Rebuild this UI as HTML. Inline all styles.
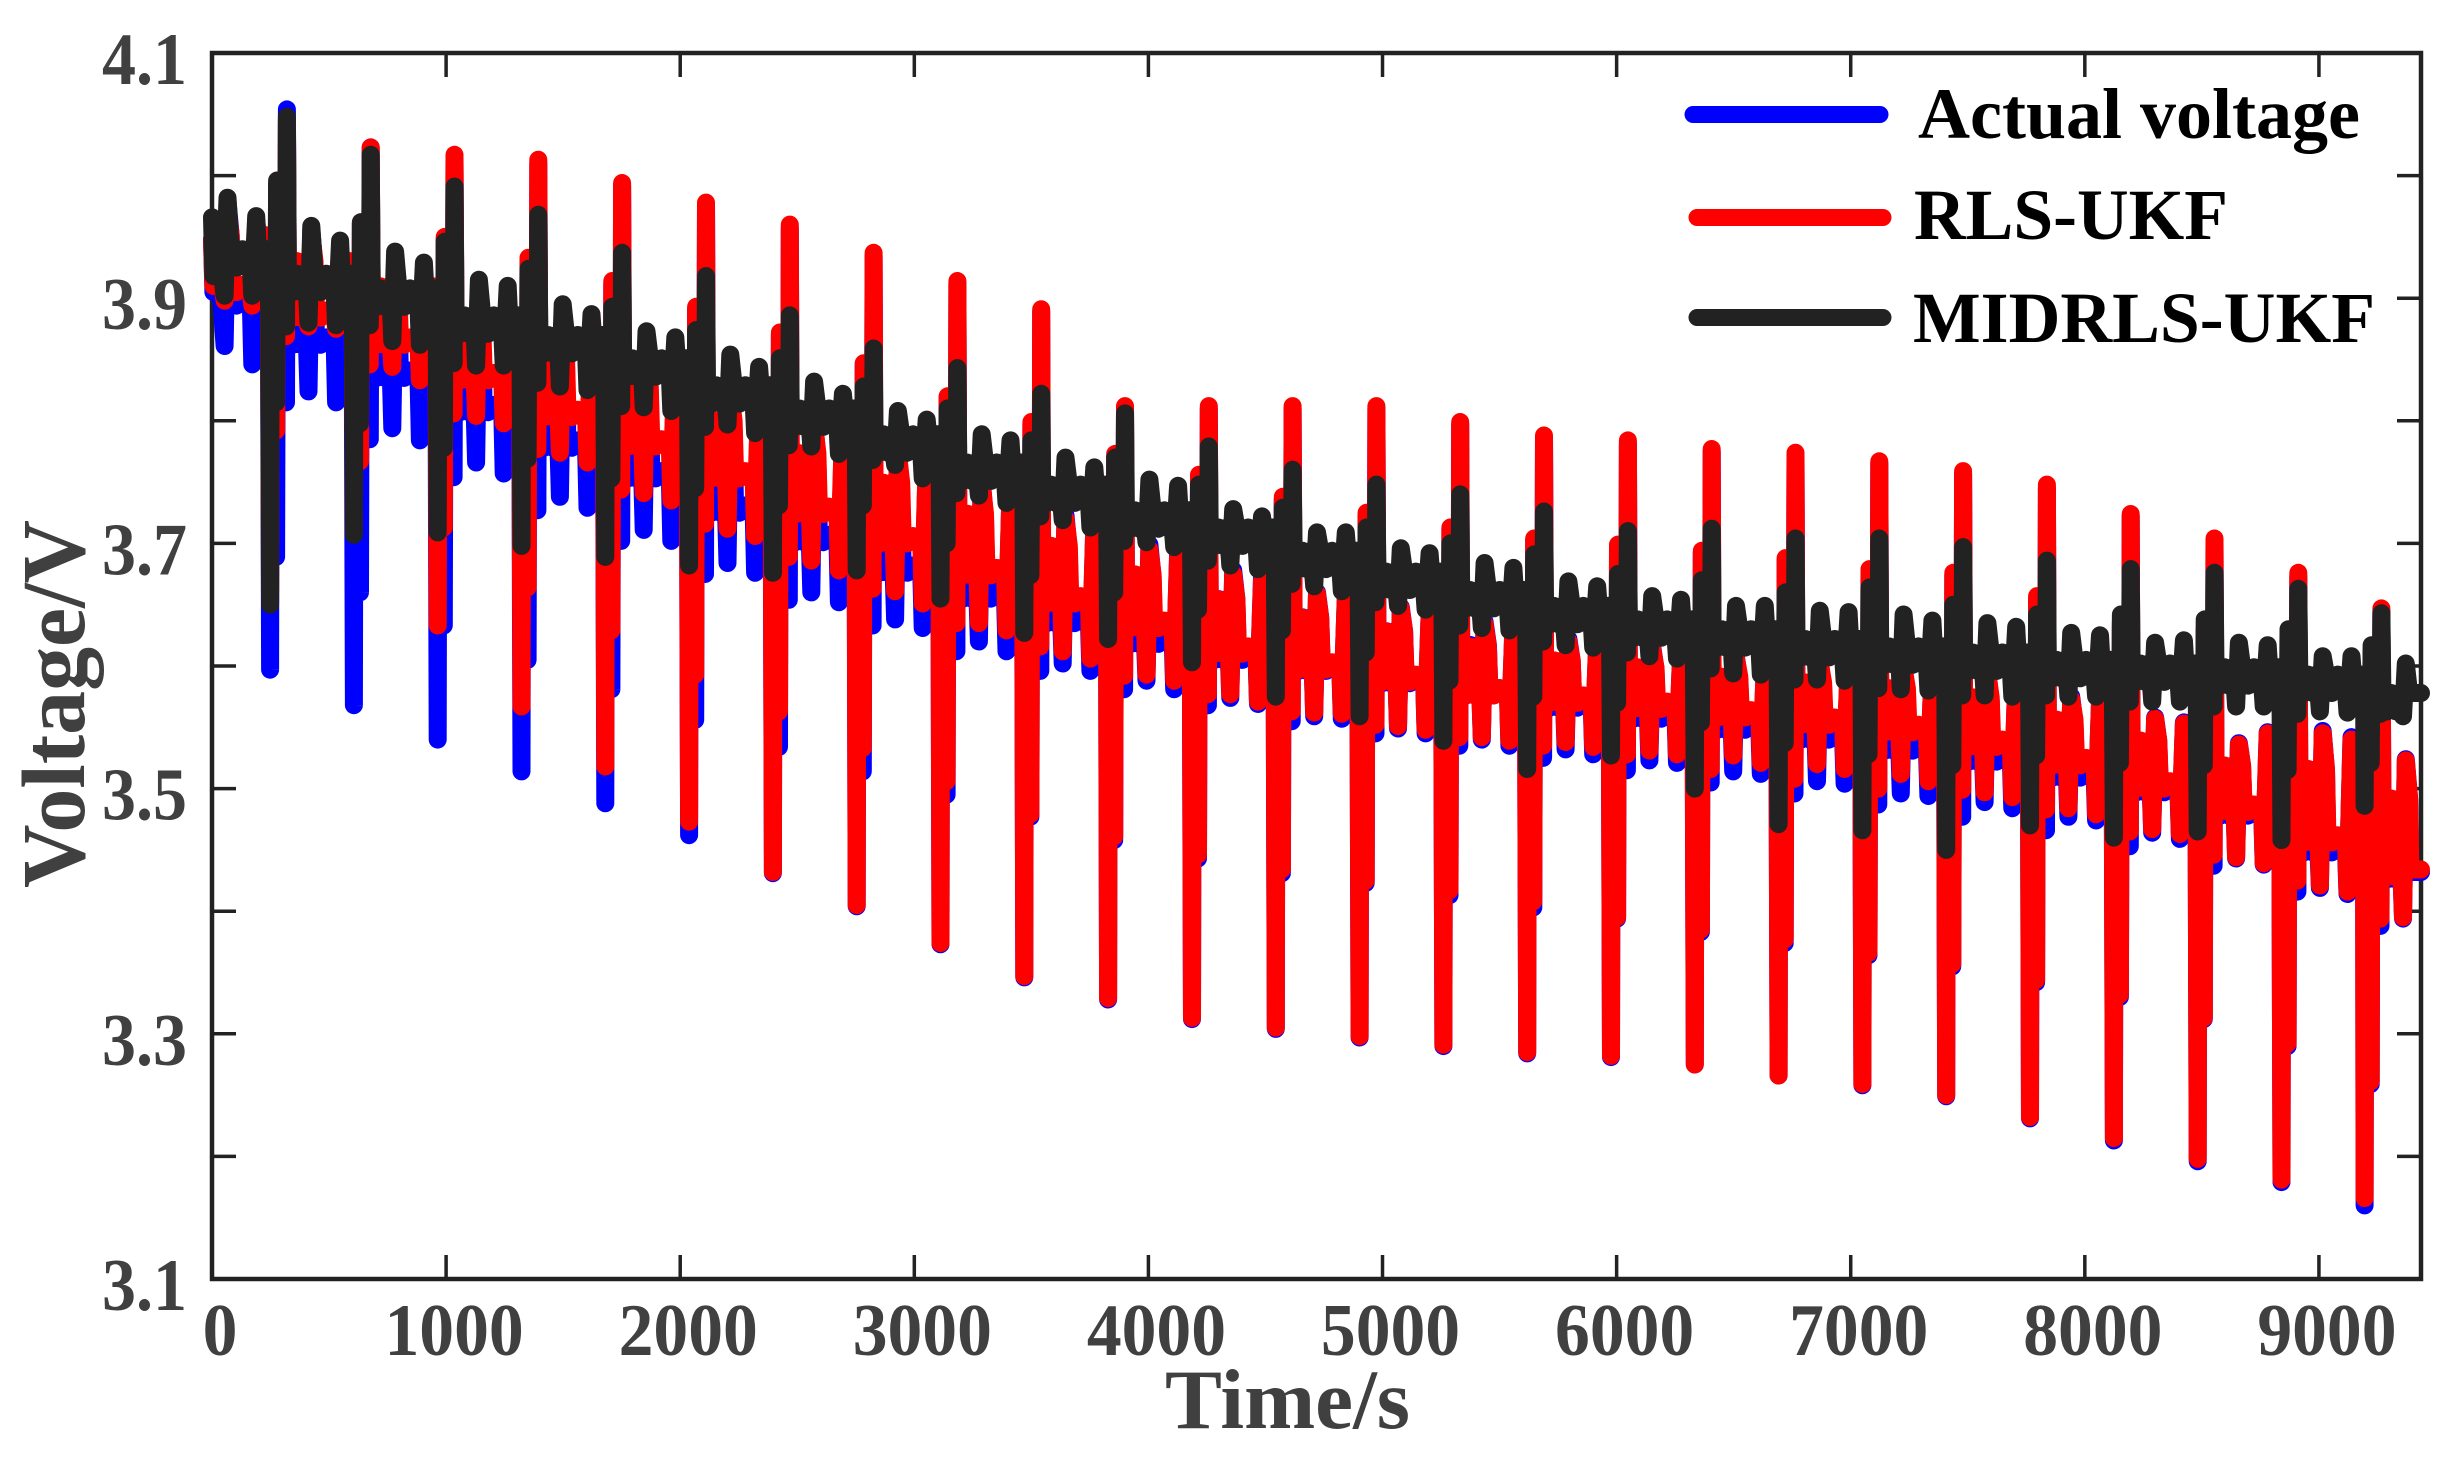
<!DOCTYPE html>
<html lang="en">
<head>
<meta charset="utf-8">
<title>Voltage vs Time</title>
<style>
html,body{margin:0;padding:0;background:#fff;}
svg{display:block;}
text{font-family:"Liberation Serif",serif;font-weight:bold;}
</style>
</head>
<body>
<svg id="chart" xmlns="http://www.w3.org/2000/svg" width="2462" height="1460" viewBox="0 0 2462 1460">
<rect x="0" y="0" width="2462" height="1460" fill="#ffffff"/>
<g id="axes"></g>
<g id="series"></g>
<text x="1165" y="1428" font-size="85" fill="#404040" textLength="245" lengthAdjust="spacingAndGlyphs">Time/s</text>
<text transform="translate(84,888) rotate(-90)" font-size="90" fill="#404040" textLength="368" lengthAdjust="spacingAndGlyphs">Voltage/V</text>
<g>
<line x1="1693" y1="114.5" x2="1880" y2="114.5" stroke="#0000ff" stroke-width="17" stroke-linecap="round"/>
<text x="1918" y="138" font-size="72" fill="#000" textLength="442" lengthAdjust="spacingAndGlyphs">Actual voltage</text>
<line x1="1697" y1="217.5" x2="1883" y2="217.5" stroke="#ff0000" stroke-width="17" stroke-linecap="round"/>
<text x="1914" y="239" font-size="72" fill="#000" textLength="314" lengthAdjust="spacingAndGlyphs">RLS-UKF</text>
<line x1="1697" y1="317.5" x2="1883" y2="317.5" stroke="#222222" stroke-width="17" stroke-linecap="round"/>
<text x="1913" y="342" font-size="72" fill="#000" textLength="462" lengthAdjust="spacingAndGlyphs">MIDRLS-UKF</text>
</g>
</svg>
<script>
// Axis ticks and labels
var xTicks = [1000,2000,3000,4000,5000,6000,7000,8000,9000];
var xTickLabels = ["0","1000","2000","3000","4000","5000","6000","7000","8000","9000"];
var xLabelValues = [0,1000,2000,3000,4000,5000,6000,7000,8000,9000];
var yTicks = [4.0,3.9,3.8,3.7,3.6,3.5,3.4,3.3,3.2];
var yTickLabels = ["4.1","3.9","3.7","3.5","3.3","3.1"];
var yLabelValues = [4.1,3.9,3.7,3.5,3.3,3.1];

// Time of the large discharge dip in each cycle (s)
var dipTimes = [248,606,964,1322,1680,2038,2396,2754,3112,3470,3828,4186,4544,4902,5260,5618,5976,6334,6692,7050,7408,7766,8124,8482,8840,9195];
var endTime = 9436;
var startTimes = [0,6,30];

// Actual voltage (V)
var actualStart = [3.948,3.905,3.925];
var actualDip = [3.597,3.568,3.540,3.514,3.488,3.462,3.431,3.404,3.373,3.346,3.328,3.312,3.304,3.297,3.290,3.284,3.281,3.275,3.266,3.258,3.249,3.231,3.213,3.196,3.179,3.160];
var actualStep = [3.689,3.660,3.633,3.605,3.581,3.556,3.534,3.514,3.495,3.477,3.458,3.443,3.431,3.423,3.413,3.403,3.394,3.383,3.374,3.364,3.355,3.342,3.330,3.312,3.290,3.259];
var actualShoulder = [3.992,3.961,3.948,3.931,3.912,3.891,3.871,3.846,3.819,3.797,3.771,3.754,3.736,3.723,3.712,3.703,3.697,3.692,3.686,3.678,3.674,3.655,3.635,3.629,3.625,3.611];
var actualFall = [3.815,3.785,3.754,3.727,3.702,3.675,3.654,3.633,3.612,3.596,3.581,3.568,3.555,3.545,3.535,3.525,3.515,3.505,3.496,3.487,3.477,3.466,3.453,3.437,3.416,3.388];
var actualPeak = [4.054,4.023,4.014,4.010,3.992,3.976,3.957,3.934,3.912,3.889,3.810,3.810,3.810,3.810,3.797,3.786,3.781,3.775,3.771,3.765,3.757,3.745,3.722,3.701,3.673,3.644];
var actualBase = [3.900,3.868,3.841,3.813,3.784,3.759,3.731,3.707,3.682,3.661,3.641,3.624,3.611,3.602,3.592,3.582,3.572,3.563,3.554,3.546,3.537,3.528,3.515,3.503,3.484,3.454,3.432];
var actualLo1 = [3.861,3.824,3.794,3.766,3.738,3.711,3.684,3.660,3.638,3.620,3.602,3.588,3.574,3.559,3.549,3.540,3.532,3.523,3.514,3.506,3.496,3.489,3.477,3.464,3.443,3.419,3.394];
var actualHi1 = [3.979,3.956,3.931,3.907,3.878,3.854,3.825,3.801,3.776,3.752,3.723,3.699,3.678,3.660,3.648,3.636,3.622,3.616,3.607,3.603,3.599,3.595,3.575,3.558,3.537,3.547,3.524];
var actualLo2 = [3.846,3.815,3.784,3.757,3.729,3.702,3.676,3.652,3.631,3.612,3.596,3.581,3.569,3.557,3.545,3.535,3.528,3.521,3.512,3.504,3.494,3.484,3.474,3.459,3.438,3.414];
var actualHi2 = [3.964,3.939,3.923,3.899,3.870,3.850,3.821,3.793,3.768,3.744,3.715,3.692,3.672,3.657,3.642,3.632,3.620,3.607,3.599,3.599,3.595,3.587,3.571,3.554,3.546,3.542];

// RLS-UKF (V)
var rlsStart = [3.948,3.910,3.930];
var rlsDip = [3.661,3.710,3.633,3.567,3.518,3.473,3.432,3.405,3.374,3.347,3.329,3.313,3.305,3.298,3.291,3.285,3.282,3.275,3.266,3.259,3.250,3.232,3.215,3.198,3.181,3.166];
var rlsStep = [3.792,3.767,3.713,3.664,3.629,3.593,3.563,3.533,3.506,3.479,3.461,3.446,3.434,3.425,3.417,3.408,3.395,3.385,3.377,3.366,3.357,3.344,3.332,3.313,3.292,3.261];
var rlsShoulder = [3.993,3.962,3.950,3.933,3.914,3.893,3.872,3.847,3.820,3.799,3.773,3.756,3.738,3.725,3.713,3.704,3.699,3.694,3.688,3.679,3.676,3.657,3.637,3.630,3.626,3.612];
var rlsFall = [3.869,3.846,3.806,3.777,3.744,3.716,3.689,3.663,3.635,3.616,3.592,3.577,3.563,3.552,3.542,3.535,3.528,3.516,3.508,3.500,3.499,3.483,3.465,3.446,3.425,3.394];
var rlsPeak = [4.045,4.023,4.017,4.013,3.994,3.978,3.960,3.937,3.914,3.891,3.812,3.812,3.812,3.812,3.799,3.788,3.784,3.777,3.774,3.767,3.759,3.748,3.724,3.704,3.676,3.647];
var rlsBase = [3.911,3.890,3.868,3.839,3.809,3.785,3.759,3.730,3.706,3.680,3.657,3.637,3.616,3.603,3.593,3.582,3.576,3.571,3.564,3.558,3.552,3.540,3.525,3.506,3.487,3.462,3.434];
var rlsLo1 = [3.898,3.877,3.844,3.804,3.774,3.741,3.712,3.686,3.661,3.635,3.612,3.593,3.577,3.562,3.551,3.542,3.538,3.531,3.527,3.520,3.512,3.497,3.484,3.467,3.444,3.421,3.395];
var rlsHi1 = [3.973,3.952,3.932,3.903,3.875,3.850,3.822,3.797,3.773,3.748,3.720,3.695,3.675,3.659,3.647,3.634,3.620,3.614,3.606,3.602,3.598,3.593,3.573,3.557,3.536,3.545,3.523];
var rlsLo2 = [3.894,3.875,3.833,3.798,3.766,3.735,3.706,3.678,3.651,3.629,3.606,3.588,3.571,3.561,3.548,3.539,3.534,3.528,3.521,3.516,3.506,3.493,3.479,3.463,3.439,3.416];
var rlsHi2 = [3.956,3.936,3.920,3.895,3.867,3.846,3.818,3.789,3.765,3.740,3.712,3.689,3.669,3.655,3.640,3.630,3.618,3.606,3.598,3.598,3.593,3.585,3.569,3.553,3.545,3.540];

// MIDRLS-UKF (V)
var midStart = [3.966,3.918,3.940];
var midDip = [3.650,3.707,3.709,3.698,3.689,3.682,3.676,3.678,3.655,3.627,3.622,3.603,3.575,3.559,3.539,3.516,3.527,3.500,3.471,3.466,3.450,3.470,3.460,3.465,3.458,3.486];
var midStep = [3.815,3.798,3.778,3.769,3.753,3.745,3.731,3.731,3.700,3.674,3.660,3.646,3.629,3.611,3.588,3.575,3.570,3.554,3.537,3.528,3.519,3.527,3.521,3.519,3.515,3.521];
var midShoulder = [3.996,3.962,3.946,3.924,3.893,3.874,3.851,3.828,3.810,3.784,3.770,3.748,3.729,3.713,3.700,3.691,3.675,3.670,3.660,3.664,3.650,3.642,3.642,3.638,3.630,3.617];
var midFall = [3.877,3.878,3.847,3.831,3.812,3.795,3.780,3.768,3.741,3.722,3.702,3.686,3.667,3.652,3.633,3.620,3.611,3.598,3.589,3.582,3.576,3.576,3.571,3.567,3.561,3.561];
var midPeak = [4.048,4.017,3.991,3.968,3.937,3.918,3.886,3.859,3.843,3.822,3.806,3.779,3.760,3.748,3.740,3.726,3.710,3.712,3.704,3.704,3.697,3.686,3.679,3.676,3.663,3.643];
var midBase = [3.940,3.920,3.908,3.886,3.870,3.851,3.829,3.810,3.789,3.766,3.748,3.727,3.713,3.694,3.677,3.662,3.649,3.638,3.630,3.622,3.616,3.611,3.605,3.602,3.599,3.593,3.578];
var midLo1 = [3.902,3.880,3.865,3.845,3.828,3.811,3.797,3.779,3.764,3.739,3.719,3.701,3.682,3.665,3.649,3.631,3.617,3.608,3.594,3.589,3.581,3.576,3.575,3.571,3.567,3.563,3.559];
var midHi1 = [3.982,3.959,3.938,3.915,3.895,3.873,3.854,3.832,3.808,3.789,3.770,3.752,3.728,3.709,3.696,3.684,3.669,3.657,3.649,3.645,3.642,3.635,3.627,3.619,3.619,3.608,3.602];
var midLo2 = [3.902,3.878,3.862,3.845,3.825,3.808,3.790,3.773,3.753,3.733,3.713,3.697,3.679,3.661,3.646,3.629,3.615,3.606,3.593,3.588,3.580,3.575,3.575,3.571,3.567,3.562];
var midHi2 = [3.967,3.947,3.929,3.910,3.887,3.868,3.844,3.822,3.801,3.784,3.762,3.747,3.722,3.709,3.692,3.680,3.665,3.654,3.649,3.644,3.637,3.632,3.625,3.621,3.617,3.608];

var plot = {left:212, right:2421, top:53, bottom:1279};
var xMax = 9436, yMin = 3.1, yMax = 4.1;
var cyclePeriod = 358;
var NS = "http://www.w3.org/2000/svg";

function xScale(t){ return plot.left + t / xMax * (plot.right - plot.left); }
function yScale(v){ return plot.top + (yMax - v) / (yMax - yMin) * (plot.bottom - plot.top); }

var axes = document.getElementById("axes");

var frame = document.createElementNS(NS, "rect");


frame.setAttribute("x", plot.left);
frame.setAttribute("y", plot.top);
frame.setAttribute("width", plot.right - plot.left);
frame.setAttribute("height", plot.bottom - plot.top);
frame.setAttribute("fill", "none");
frame.setAttribute("stroke", "#222222");
frame.setAttribute("stroke-width", "4.5");
axes.appendChild(frame);

function tickPath(x1, y1, x2, y2){
  var l = document.createElementNS(NS, "line");
  l.setAttribute("x1", x1);
  l.setAttribute("y1", y1);
  l.setAttribute("x2", x2);
  l.setAttribute("y2", y2);
  l.setAttribute("stroke", "#222222");
  l.setAttribute("stroke-width", "3.5");
  axes.appendChild(l);
  return l;
}

xTicks.forEach(function(t){
  var a = tickPath(xScale(t), plot.bottom, xScale(t), plot.bottom - 24);
  
  
  var b = tickPath(xScale(t), plot.top, xScale(t), plot.top + 24);
  
  
});
yTicks.forEach(function(v){
  var a = tickPath(plot.left, yScale(v), plot.left + 24, yScale(v));
  
  
  var b = tickPath(plot.right, yScale(v), plot.right - 24, yScale(v));
  
  
});

xTickLabels.forEach(function(s, i){
  var t = document.createElementNS(NS, "text");
  
  
  t.setAttribute("x", xScale(xLabelValues[i]) + 8);
  t.setAttribute("y", 1355);
  t.setAttribute("font-size", "74");
  t.setAttribute("fill", "#404040");
  t.setAttribute("text-anchor", "middle");
  t.setAttribute("textLength", s.length * 34.8);
  t.setAttribute("lengthAdjust", "spacingAndGlyphs");
  t.textContent = s;
  axes.appendChild(t);
});
yTickLabels.forEach(function(s, i){
  var t = document.createElementNS(NS, "text");
  
  
  t.setAttribute("x", 102);
  t.setAttribute("y", yScale(yLabelValues[i]) + 31);
  t.setAttribute("font-size", "74");
  t.setAttribute("fill", "#404040");
  t.setAttribute("textLength", "85");
  t.setAttribute("lengthAdjust", "spacingAndGlyphs");
  t.textContent = s;
  axes.appendChild(t);
});

function buildPoints(s){
  var pts = [];
  startTimes.forEach(function(t, i){ pts.push([t, s.start[i]]); });
  for (var i = 0; i <= dipTimes.length; i++){
    var a = i === 0 ? dipTimes[0] - cyclePeriod : dipTimes[i - 1];
    var lower = s.base[i] - s.sag;
    var upper = s.base[i] + s.blockShare * (s.hi1[i] - s.base[i]);
    if (i > 0){
      var k = i - 1;
      pts.push([a, s.dip[k]]);
      pts.push([a + 3, s.base[k]]);
      pts.push([a + 26, s.step[k]]);
      pts.push([a + 30, s.shoulder[k]]);
      pts.push([a + 68, s.fall[k]]);
      pts.push([a + 72, s.peak[k]]);
      pts.push([a + 76, upper]);
      pts.push([a + 96, lower]);
      pts.push([a + 114, upper]);
      pts.push([a + 134, lower]);
      pts.push([a + 150, upper]);
      pts.push([a + 158, lower]);
    }
    pts.push([a + 164, s.lo1[i]]);
    pts.push([a + 176, s.hi1[i]]);
    pts.push([a + 190, upper]);
    pts.push([a + 196, s.base[i]]);
    if (i < dipTimes.length){
      pts.push([a + 215, lower]);
      pts.push([a + 240, s.base[i]]);
      pts.push([a + 276, lower]);
      pts.push([a + 282, s.lo2[i]]);
      pts.push([a + 299, s.hi2[i]]);
      pts.push([a + 305, upper]);
      pts.push([a + 325, lower]);
      pts.push([a + 340, upper]);
      pts.push([a + 353, s.base[i]]);
    } else {
      pts.push([endTime, s.base[i]]);
    }
  }
  return pts;
}

function drawSeries(s, name, color){
  var d = buildPoints(s).map(function(p, i){
    return (i ? "L" : "M") + xScale(p[0]).toFixed(1) + " " + yScale(p[1]).toFixed(1);
  }).join("");
  var path = document.createElementNS(NS, "path");
  
  
  path.setAttribute("d", d);
  path.setAttribute("fill", "none");
  path.setAttribute("stroke", color);
  path.setAttribute("stroke-width", "18");
  path.setAttribute("stroke-linecap", "round");
  path.setAttribute("stroke-linejoin", "round");
  document.getElementById("series").appendChild(path);
}

drawSeries({sag:0.006,blockShare:0.65,start:actualStart,dip:actualDip,step:actualStep,shoulder:actualShoulder,fall:actualFall,peak:actualPeak,base:actualBase,lo1:actualLo1,hi1:actualHi1,lo2:actualLo2,hi2:actualHi2}, "actual-voltage-line", "#0000ff");
drawSeries({sag:0.006,blockShare:0.65,start:rlsStart,dip:rlsDip,step:rlsStep,shoulder:rlsShoulder,fall:rlsFall,peak:rlsPeak,base:rlsBase,lo1:rlsLo1,hi1:rlsHi1,lo2:rlsLo2,hi2:rlsHi2}, "rls-ukf-line", "#ff0000");
drawSeries({sag:0.015,blockShare:0,start:midStart,dip:midDip,step:midStep,shoulder:midShoulder,fall:midFall,peak:midPeak,base:midBase,lo1:midLo1,hi1:midHi1,lo2:midLo2,hi2:midHi2}, "midrls-ukf-line", "#222222");
</script>
</body>
</html>
